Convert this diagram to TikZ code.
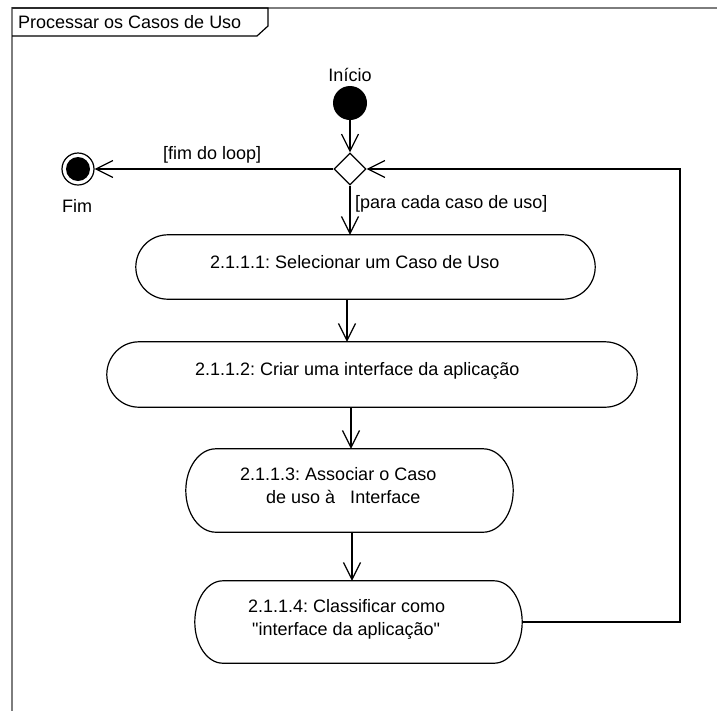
\documentclass[tikz,border=0pt]{standalone}
\usepackage{fontspec}
\setmainfont{Liberation Sans}[Ligatures=TeXOff]
\usetikzlibrary{arrows.meta,shapes.geometric,calc}
\definecolor{framegray}{RGB}{125,125,125}
\frenchspacing

% outline of an action: straight top and bottom, elliptical ends
\newcommand\actoutline[2]{%
  \draw[actline] let \p1=(#1.north east), \p2=(#1.south west), \n1={(\y1-\y2)/2} in
    ([xshift=#2]#1.north west) -- ([xshift=-#2]#1.north east)
    arc[start angle=90, end angle=-90, x radius=#2, y radius=\n1]
    -- ([xshift=#2]#1.south west)
    arc[start angle=270, end angle=90, x radius=#2, y radius=\n1] -- cycle;}

\begin{document}
\begin{tikzpicture}[x=1pt,y=1pt,
  every node/.style={font=\fontsize{18}{22}\selectfont},
  txt/.style={inner sep=0pt, anchor=base},
  txtw/.style={inner sep=0pt, anchor=base west},
  actline/.style={line width=1.2pt, black},
  actbox/.style={rectangle, inner sep=0pt, minimum width=#1},
  flow/.style={line width=1.2pt, -{Straight Barb[length=17pt,width=17pt,line width=1.2pt]}},
  startnode/.style={circle, fill=black, inner sep=0pt, minimum size=34pt},
  endouter/.style={circle, draw=black, line width=1.2pt, fill=white, inner sep=0pt, minimum size=32pt},
  endinner/.style={circle, fill=black, inner sep=0pt, minimum size=24pt},
  decision/.style={diamond, draw=black, line width=1.2pt, fill=white, inner sep=0pt, minimum width=32pt, minimum height=32pt, aspect=1}
]
\useasboundingbox (0,0) rectangle (717,-710);

% activity frame and its name tab
\coordinate (fbl) at (12,-712);
\coordinate (ftl) at (12,-8);
\coordinate (ftr) at (719,-8);
\draw[framegray, line width=1.4pt] (fbl) -- (ftl) -- (ftr);
\draw[black, line width=1.2pt] (12,-8) -- (268,-8) -- (268,-26) -- (257,-36) -- (12,-36);
\node[txtw] (title) at (18,-28) {Processar os Casos de Uso};

% initial node, decision, final node
\node[startnode] (ini) at (350,-103) {};
\node[txt] (inilbl) at (350,-81) {Início};
\node[decision] (dec) at (350,-169) {};
\node[endouter] (fim) at (78,-169) {};
\node[endinner] (fimin) at (fim.center) {};
\node[txt] (fimlbl) at (77,-212) {Fim};

% actions
\node[actbox=459pt, minimum height=64pt] (a1) at (365.5,-267) {};
\node[actbox=530pt, minimum height=65pt] (a2) at (372,-374.5) {};
\node[actbox=327pt, minimum height=83pt] (a3) at (349.5,-490.5) {};
\node[actbox=327pt, minimum height=82pt] (a4) at (358.5,-622) {};
\actoutline{a1}{32pt}
\actoutline{a2}{32pt}
\actoutline{a3}{30pt}
\actoutline{a4}{28pt}

\node[txtw] (t1) at (210,-268) {2.1.1.1: Selecionar um Caso de Uso};
\node[txtw] (t2) at (195,-375) {2.1.1.2: Criar uma interface da aplicação};
\node[txtw] (t3a) at (240,-480) {2.1.1.3: Associar o Caso};
\node[txtw] (t3b) at (266,-503) {de uso à~~~Interface};
\node[txtw] (t4a) at (248,-612) {2.1.1.4: Classificar como};
\node[txtw] (t4b) at (252,-635) {"interface da aplicação"};

% flows
\draw[flow] (ini.south) -- (dec.north);
\draw[flow] (dec.west) -- (fim.east);
\node[txtw] (g1) at (163,-159) {[fim do loop]};
\draw[flow] (dec.south) -- (a1.north -| dec.south);
\node[txtw] (g2) at (355,-208) {[para cada caso de uso]};
\draw[flow] ([xshift=-18.5pt]a1.south) -- ([xshift=-25pt]a2.north);
\draw[flow] ([xshift=-21pt]a2.south) -- ([xshift=1.5pt]a3.north);
\draw[flow] ([xshift=2.5pt]a3.south) -- ([xshift=-6.5pt]a4.north);
\coordinate (loop) at (680,-622);
\draw[flow] (a4.east) -- (loop) |- (dec.east);
\end{tikzpicture}
\end{document}
